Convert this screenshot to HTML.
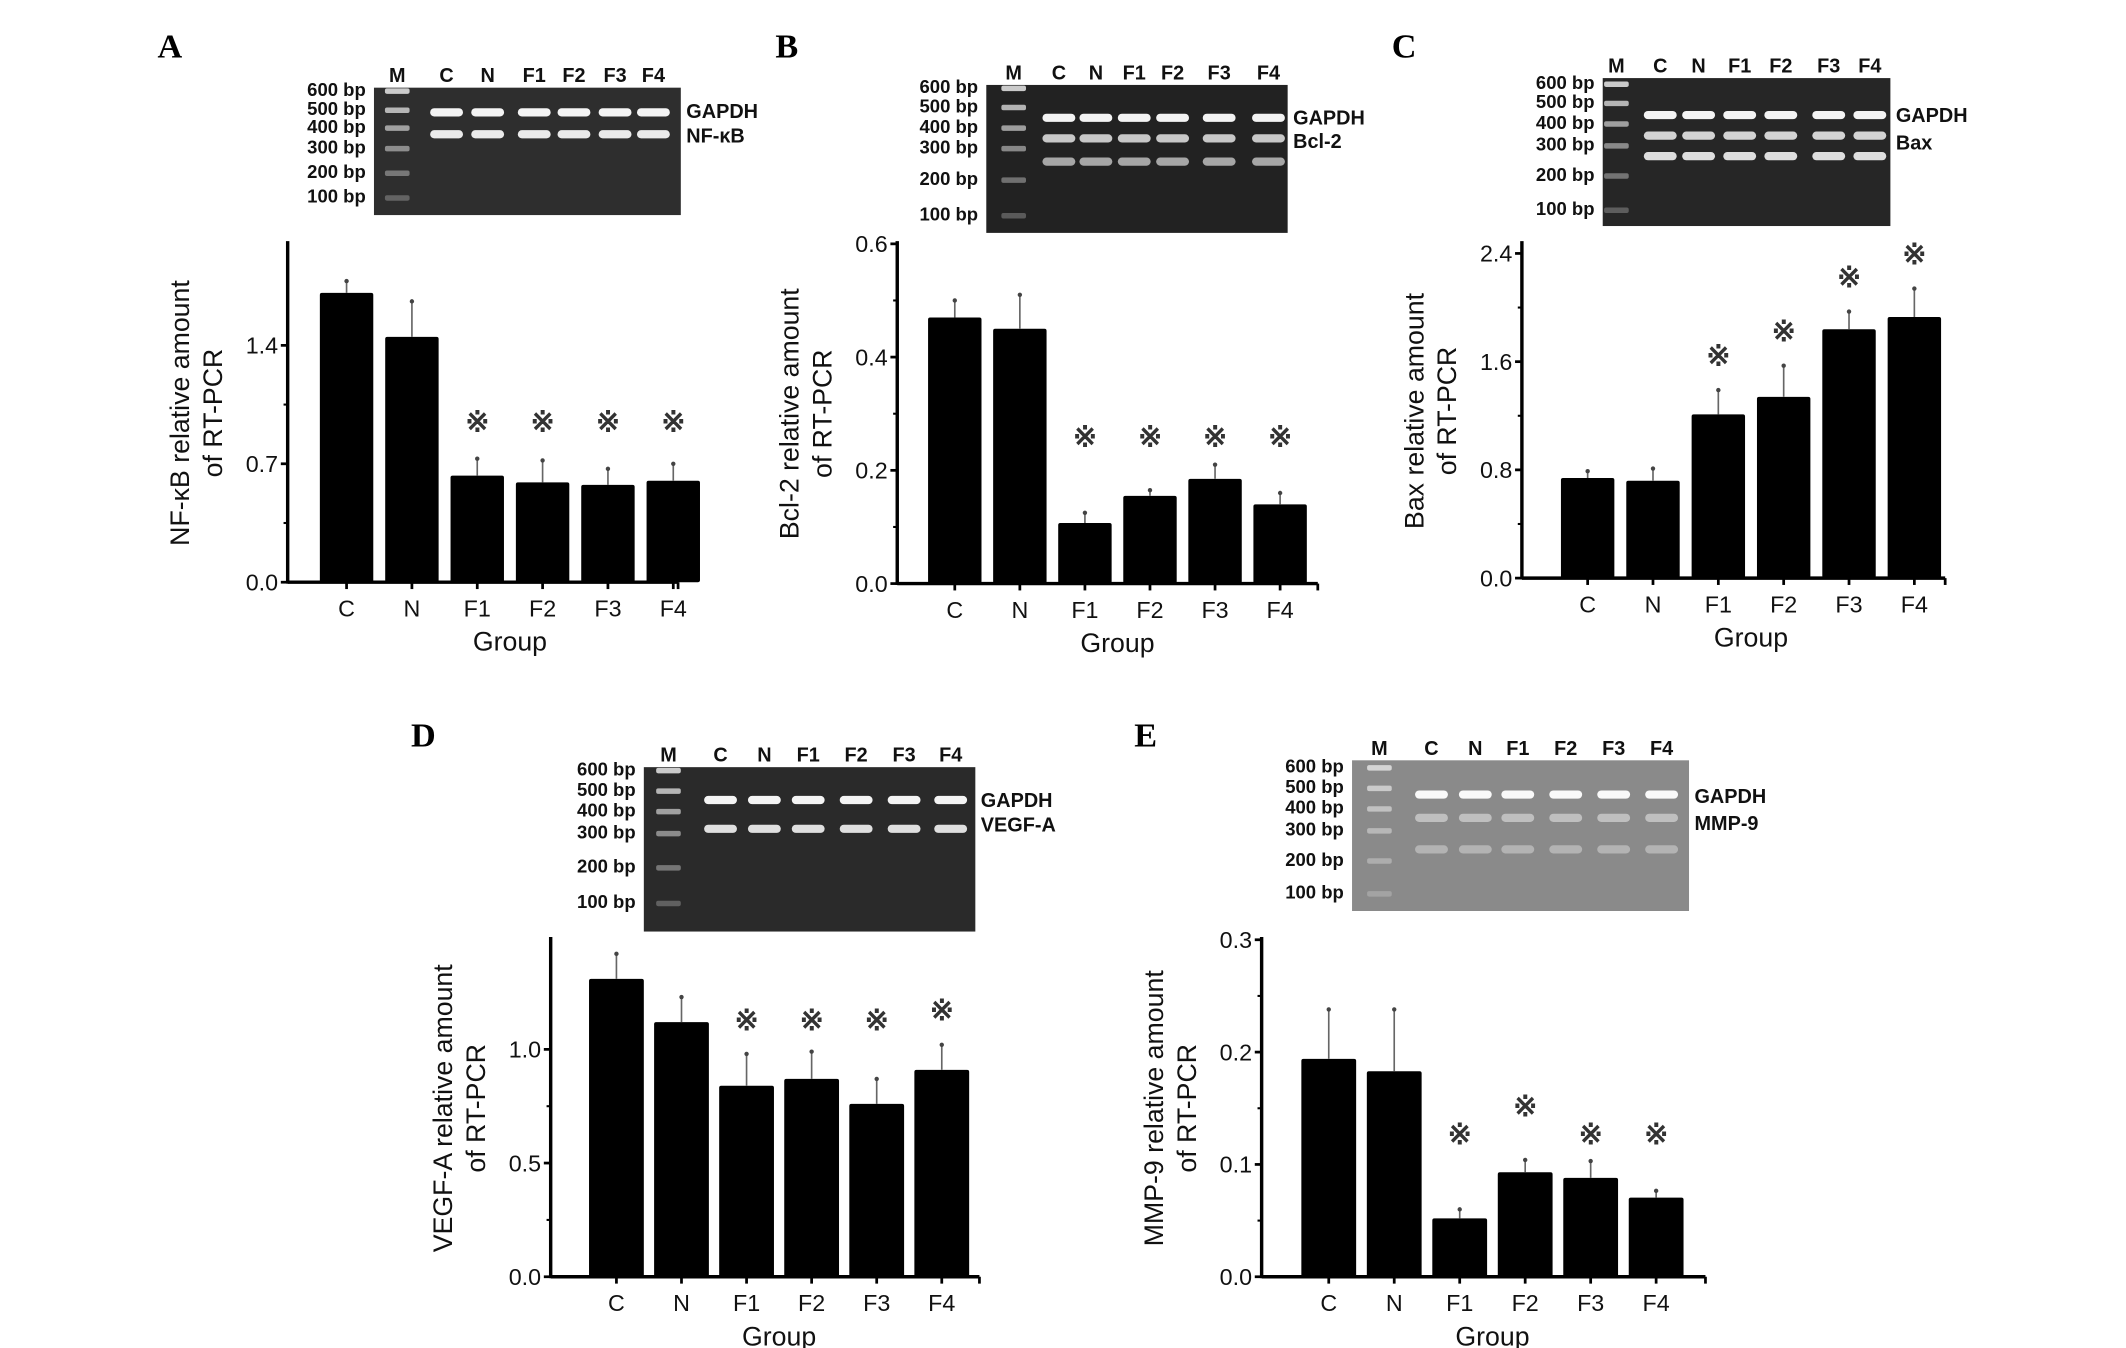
<!DOCTYPE html>
<html><head><meta charset="utf-8"><style>
html,body{margin:0;padding:0;background:#fff;}
svg{display:block;}
text{font-family:"Liberation Sans",sans-serif;}
.bp{font-family:"Liberation Sans",sans-serif;font-weight:bold;font-size:13.5px;fill:#111;}
.lane{font-weight:bold;font-size:14.5px;fill:#111;}
.tick{font-size:17px;fill:#111;}
.ttl{font-size:19.5px;fill:#111;}
.letter{font-family:"Liberation Serif",serif;font-weight:bold;font-size:25px;fill:#000;}
</style></head><body>
<svg id="fig" width="2126" height="1348" viewBox="0 0 1552 984" preserveAspectRatio="none"></svg>
<script>
// ---- Data ----
const groups = ["C","N","F1","F2","F3","F4"];
const laneLabels = ["M","C","N","F1","F2","F3","F4"];
const markerLabels = ["600 bp","500 bp","400 bp","300 bp","200 bp","100 bp"];

const nfkbValues = [1.71, 1.45, 0.63, 0.59, 0.575, 0.60];
const nfkbErrors = [1.78, 1.66, 0.73, 0.72, 0.67, 0.70];
const nfkbTicks = [0.0, 0.7, 1.4];
const nfkbStars = [false,false,true,true,true,true];

const bcl2Values = [0.47, 0.45, 0.107, 0.155, 0.185, 0.14];
const bcl2Errors = [0.50, 0.51, 0.125, 0.165, 0.21, 0.16];
const bcl2Ticks = [0.0, 0.2, 0.4, 0.6];
const bcl2Stars = [false,false,true,true,true,true];

const baxValues = [0.74, 0.72, 1.21, 1.34, 1.84, 1.93];
const baxErrors = [0.79, 0.81, 1.39, 1.57, 1.97, 2.14];
const baxTicks = [0.0, 0.8, 1.6, 2.4];
const baxStars = [false,false,true,true,true,true];

const vegfValues = [1.31, 1.12, 0.84, 0.87, 0.76, 0.91];
const vegfErrors = [1.42, 1.23, 0.98, 0.99, 0.87, 1.02];
const vegfTicks = [0.0, 0.5, 1.0];
const vegfStars = [false,false,true,true,true,true];

const mmpValues = [0.194, 0.183, 0.052, 0.093, 0.088, 0.0705];
const mmpErrors = [0.238, 0.238, 0.060, 0.104, 0.103, 0.0765];
const mmpTicks = [0.0, 0.1, 0.2, 0.3];
const mmpStars = [false,false,true,true,true,true];

const NS="http://www.w3.org/2000/svg";
const svg=document.getElementById('fig');
function mk(tag, attrs, parent, txt){
  const e=document.createElementNS(NS,tag);
  for(const k in attrs) e.setAttribute(k, attrs[k]);
  if(txt!==undefined) e.textContent=txt;
  (parent||svg).appendChild(e); return e;
}

function chart(cfg, vals, errs, ticks, stars){
  const g=mk('g',{});
  
  
  const y=v=> cfg.y0 - (v-cfg.min)/(cfg.max-cfg.min)*(cfg.y0-cfg.yTop);
  const x=i=> cfg.x0 + cfg.first + i*cfg.step;
  vals.forEach((v,i)=>{
    const r=mk('rect',{x:x(i)-cfg.bw/2,y:y(v),width:cfg.bw,height:cfg.y0-y(v),fill:'#000',rx:1.5},g);
    
    
    const e=mk('line',{x1:x(i),x2:x(i),y1:y(v),y2:y(errs[i]),stroke:'#666','stroke-width':1.2},g);
    
    
    mk('circle',{cx:x(i),cy:y(errs[i]),r:1.6,fill:'#444'},g);
    if(stars[i]){
      let sy = cfg.starY!==undefined ? cfg.starY : y(errs[i])-cfg.starGap;
      if(cfg.starY!==undefined && y(errs[i])-12 < sy) sy = y(errs[i])-cfg.starGap;
      const s=mk('text',{x:x(i),y:sy,'text-anchor':'middle','font-size':21,'font-weight':'bold',fill:'#333'},g,'※');
      
      
    }
  });
  const ya=mk('line',{x1:cfg.x0,x2:cfg.x0,y1:cfg.yTop-2,y2:cfg.y0+1,stroke:'#000','stroke-width':2.5},g);
  
  
  const xa=mk('line',{x1:cfg.x0,x2:cfg.xEnd,y1:cfg.y0,y2:cfg.y0,stroke:'#000','stroke-width':2.5},g);
  
  
  mk('line',{x1:cfg.xEnd,x2:cfg.xEnd,y1:cfg.y0,y2:cfg.y0+5,stroke:'#000','stroke-width':2},g);
  ticks.forEach((t,k)=>{
    mk('line',{x1:cfg.x0-5,x2:cfg.x0,y1:y(t),y2:y(t),stroke:'#000','stroke-width':2},g);
    if(k<ticks.length-1){const m=(t+ticks[k+1])/2; mk('line',{x1:cfg.x0-3,x2:cfg.x0,y1:y(m),y2:y(m),stroke:'#000','stroke-width':1.5},g);}
    const tl=mk('text',{x:cfg.x0-7,y:y(t)+6,'text-anchor':'end',class:'tick'},g,t.toFixed(1));
    
    
  });
  groups.forEach((gname,i)=>{
    mk('line',{x1:x(i),x2:x(i),y1:cfg.y0,y2:cfg.y0+5,stroke:'#000','stroke-width':2},g);
    const tl=mk('text',{x:x(i),y:cfg.y0+25,'text-anchor':'middle',class:'tick'},g,gname);
    
    
  });
  const xt=mk('text',{x:cfg.x0+cfg.first+2.5*cfg.step,y:cfg.y0+50,'text-anchor':'middle',class:'ttl'},g,'Group');
  
  
  const cy=(cfg.y0+cfg.yTop)/2;
  const yt=mk('text',{transform:`translate(${cfg.x0-cfg.tOff},${cy}) rotate(-90)`,'text-anchor':'middle',class:'ttl'},g);
  
  
  mk('tspan',{x:0,y:0},yt,cfg.title);
  mk('tspan',{x:0,y:24},yt,'of RT-PCR');
}

function gel(cfg){
  const g=mk('g',{});
  
  
  mk('rect',{x:cfg.x,y:cfg.y,width:cfg.w,height:cfg.h,fill:cfg.bg},g);
  laneLabels.forEach((l,i)=>{
    mk('text',{x:cfg.lanes[i],y:cfg.y-4,'text-anchor':'middle',class:'lane'},g,l);
  });
  markerLabels.forEach((l,i)=>{
    mk('text',{x:cfg.x-6,y:cfg.mk[i]+4,'text-anchor':'end',class:'bp'},g,l);
    mk('rect',{x:cfg.lanes[0]-9,y:cfg.mk[i]-1.5,width:18,height:4,fill:'#ddd',opacity:0.9-i*0.12,rx:1.5},g);
  });
  for(let i=1;i<7;i++){
    cfg.bands.forEach((b,k)=>{
      mk('rect',{x:cfg.lanes[i]-12,y:b-3,width:24,height:6,fill:'#fff',opacity:k==0?0.95:(cfg.bandOp[k]||0.8),rx:3},g);
    });
  }
  cfg.names.forEach((n,k)=>{
    mk('text',{x:cfg.x+cfg.w+4,y:cfg.nameY[k],class:'lane'},g,n);
  });
  const L=mk('text',{x:cfg.lx,y:cfg.ly,class:'letter'},g,cfg.letter);
  
  
}

gel({name:'nfkb',letter:'A',lx:115,ly:42,x:273,y:64,w:224,h:93,bg:'#2e2e2e',
  lanes:[290,326,356,390,419,449,477],mk:[66,80,93,108,126,144],bands:[82,98],bandOp:[1,0.9],
  names:['GAPDH','NF-κB'],nameY:[86,104]});
gel({name:'bcl2',letter:'B',lx:566,ly:42,x:720,y:62,w:220,h:108,bg:'#222',
  lanes:[740,773,800,828,856,890,926],mk:[64,78,93,108,131,157],bands:[86,101,118],bandOp:[1,0.75,0.6],
  names:['GAPDH','Bcl-2'],nameY:[91,108]});
gel({name:'bax',letter:'C',lx:1016,ly:42,x:1170,y:57,w:210,h:108,bg:'#262626',
  lanes:[1180,1212,1240,1270,1300,1335,1365],mk:[61,75,90,106,128,153],bands:[84,99,114],bandOp:[1,0.8,0.85],
  names:['GAPDH','Bax'],nameY:[89,109]});
gel({name:'vegfa',letter:'D',lx:300,ly:545,x:470,y:560,w:242,h:120,bg:'#2a2a2a',
  lanes:[488,526,558,590,625,660,694],mk:[562,577,592,608,633,659],bands:[584,605],bandOp:[1,0.85],
  names:['GAPDH','VEGF-A'],nameY:[589,607]});
gel({name:'mmp9',letter:'E',lx:828,ly:545,x:987,y:555,w:246,h:110,bg:'#8a8a8a',
  lanes:[1007,1045,1077,1108,1143,1178,1213],mk:[560,575,590,606,628,652],bands:[580,597,620],bandOp:[1,0.45,0.35],
  names:['GAPDH','MMP-9'],nameY:[586,606]});

chart({name:'nfkb',x0:210,xEnd:495,y0:425,yTop:178,min:0,max:2.0,first:43,step:47.7,bw:39,starGap:22,starY:315,tOff:72,title:'NF-κB relative amount'},nfkbValues,nfkbErrors,nfkbTicks,nfkbStars);
chart({name:'bcl2',x0:655,xEnd:962,y0:426,yTop:178,min:0,max:0.6,first:42,step:47.5,bw:39,starGap:20,starY:326,tOff:72,title:'Bcl-2 relative amount'},bcl2Values,bcl2Errors,bcl2Ticks,bcl2Stars);
chart({name:'bax',x0:1111,xEnd:1420,y0:422,yTop:178,min:0,max:2.4*(422-178)/(422-185),first:48,step:47.7,bw:39,starGap:18,tOff:72,title:'Bax relative amount'},baxValues,baxErrors,baxTicks,baxStars);
chart({name:'vegfa',x0:402,xEnd:715,y0:932,yTop:686,min:0,max:1.0*(932-686)/(932-766),first:48,step:47.5,bw:40,starGap:18,starY:752,tOff:72,title:'VEGF-A relative amount'},vegfValues,vegfErrors,vegfTicks,vegfStars);
chart({name:'mmp9',x0:921,xEnd:1245,y0:932,yTop:686,min:0,max:0.3,first:49,step:47.8,bw:40,starGap:32,starY:835,tOff:72,title:'MMP-9 relative amount'},mmpValues,mmpErrors,mmpTicks,mmpStars);
</script>
</body></html>
